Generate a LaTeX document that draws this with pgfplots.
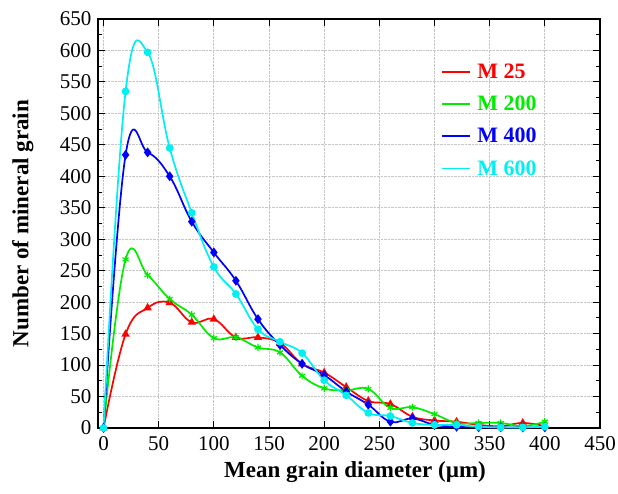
\documentclass[border=0pt]{standalone}
\usepackage{fontspec}
\setmainfont{Liberation Serif}
\usepackage{pgfplots}
\pgfplotsset{compat=1.18}
\definecolor{mgreen}{RGB}{0,235,0}
\definecolor{mcyan}{RGB}{0,240,240}
\begin{document}
\begin{tikzpicture}
\begin{axis}[
 scale only axis, width=502pt, height=409pt,
 xmin=-5, xmax=450, ymin=0, ymax=650,
 xtick={0,50,...,450}, ytick={0,50,...,650},
 minor y tick num=1,
 tick align=inside, major tick length=7pt, minor tick length=4pt,
 tick style={black, line width=0.9pt},
 axis line style={line width=1.1pt},
 grid=major, grid style={densely dotted, gray!45, line width=0.9pt},
 ticklabel style={font=\fontsize{21}{21}\selectfont},
 yticklabel style={xshift=-3pt},
 xticklabel style={yshift=-5pt},
 /pgf/number format/assume math mode=true,
 xlabel={\textbf{Mean grain diameter (µm)}},
 ylabel={\textbf{Number of mineral grain}},
 label style={font=\fontsize{23}{23}\selectfont},
 xlabel style={at={(axis description cs:0.512,-0.108)}, anchor=center},
 ylabel style={at={(axis description cs:-0.15,0.5)}, anchor=center, rotate=0},
 legend style={draw=none, fill=none, at={(rel axis cs:0.678,0.9)}, anchor=north west,
   font=\fontsize{22}{22}\selectfont\bfseries, row sep=12pt,
   nodes={inner xsep=6pt}},
 legend cell align=left,
 legend image code/.code={\draw[#1, mark=none, line width=1.8pt] (0pt,0pt) -- (28pt,0pt);},
 every axis plot/.append style={smooth, tension=0.7, line width=1.7pt},
]
\addplot[red, mark=triangle*, mark size=3.2pt] coordinates {
(0,0)(20,149)(40,191)(60,199)(80,168)(100,173)(120,144)(140,144)(160,135)(180,102)(200,88)(220,65)(240,43)(260,38)(280,18)(300,12)(320,10)(340,5)(360,3)(380,8)(400,3)};
\addlegendentry{\textcolor{red}{M 25}}
\addplot[mgreen, mark=asterisk, mark size=3.5pt, mark options={line width=1.2pt}] coordinates {
(0,0)(20,268)(40,243)(60,205)(80,180)(100,143)(120,144)(140,128)(160,120)(180,83)(200,63)(220,60)(240,62)(260,32)(280,33)(300,22)(320,8)(340,8)(360,8)(380,3)(400,10)};
\addlegendentry{\textcolor{mgreen}{M 200}}
\addplot[blue, mark=diamond*, mark size=3.6pt] coordinates {
(0,0)(20,434)(40,438)(60,400)(80,328)(100,279)(120,234)(140,173)(160,132)(180,102)(200,84)(220,58)(240,37)(260,10)(280,15)(300,5)(320,2)(340,1)(360,1)(380,1)(400,1)};
\addlegendentry{\textcolor{blue}{M 400}}
\addplot[mcyan, mark=*, mark size=3pt] coordinates {
(0,0)(20,535)(40,597)(60,445)(80,342)(100,256)(120,213)(140,157)(160,137)(180,119)(200,76)(220,52)(240,24)(260,19)(280,8)(300,5)(320,5)(340,2)(360,1)(380,1)(400,2)};
\addlegendentry{\textcolor{mcyan}{M 600}}
\end{axis}
\pgfresetboundingbox
\path[use as bounding box] ([xshift=-98pt,yshift=-65pt]current axis.south west) rectangle ([xshift=18pt,yshift=19pt]current axis.north east);
\end{tikzpicture}
\end{document}
